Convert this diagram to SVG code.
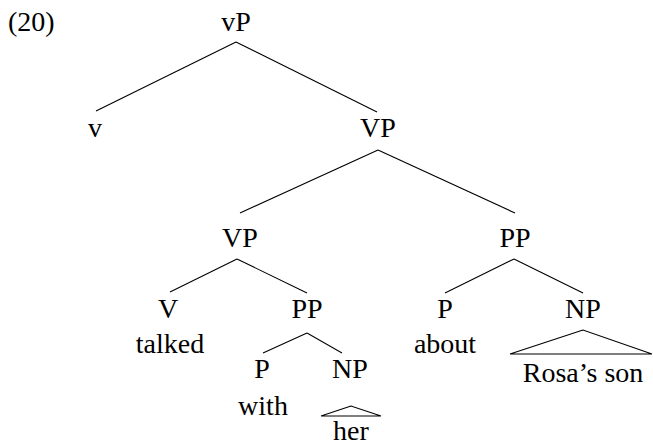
<svg xmlns="http://www.w3.org/2000/svg" width="653" height="445" viewBox="0 0 653 445">
  <style>
    text { font-family: "Liberation Serif", "Times New Roman", serif; font-size: 28px; fill: #000; text-anchor: middle; }
    .branch { stroke: #000; stroke-width: 1.1; fill: none; }
  </style>
  <rect width="653" height="445" fill="#fff"/>
  <text x="8" y="31" style="text-anchor:start">(20)</text>

  <g id="edges">
    <line class="branch" x1="236" y1="42" x2="96" y2="111"/>
    <line class="branch" x1="236" y1="42" x2="377" y2="112"/>
    <line class="branch" x1="378" y1="150" x2="240" y2="213"/>
    <line class="branch" x1="378" y1="150" x2="515" y2="213"/>
    <line class="branch" x1="237" y1="259" x2="170" y2="292"/>
    <line class="branch" x1="237" y1="259" x2="307" y2="293"/>
    <line class="branch" x1="307" y1="333" x2="263" y2="353"/>
    <line class="branch" x1="307" y1="333" x2="342" y2="353"/>
    <line class="branch" x1="514" y1="259" x2="445" y2="293"/>
    <line class="branch" x1="514" y1="259" x2="583" y2="293"/>
    <polygon class="branch" points="351,406 321,416 381,416"/>
    <polygon class="branch" points="583,330 510,354 652,354"/>
  </g>

  <g id="vP"><text x="236" y="31">vP</text></g>
  <g id="v"><text x="95" y="137">v</text></g>
  <g id="VP-top"><text x="378" y="137">VP</text></g>
  <g id="VP-inner"><text x="240" y="247">VP</text></g>
  <g id="PP-about"><text x="515" y="247">PP</text></g>
  <g id="V"><text x="168" y="318">V</text><text x="170" y="353">talked</text></g>
  <g id="PP-with"><text x="307" y="318">PP</text></g>
  <g id="P-about"><text x="445" y="318">P</text><text x="445" y="353">about</text></g>
  <g id="NP-rosa"><text x="583" y="318">NP</text><text x="583" y="382">Rosa’s son</text></g>
  <g id="P-with"><text x="262" y="378">P</text><text x="263" y="415">with</text></g>
  <g id="NP-her"><text x="350" y="378">NP</text><text x="351" y="440">her</text></g>
</svg>
